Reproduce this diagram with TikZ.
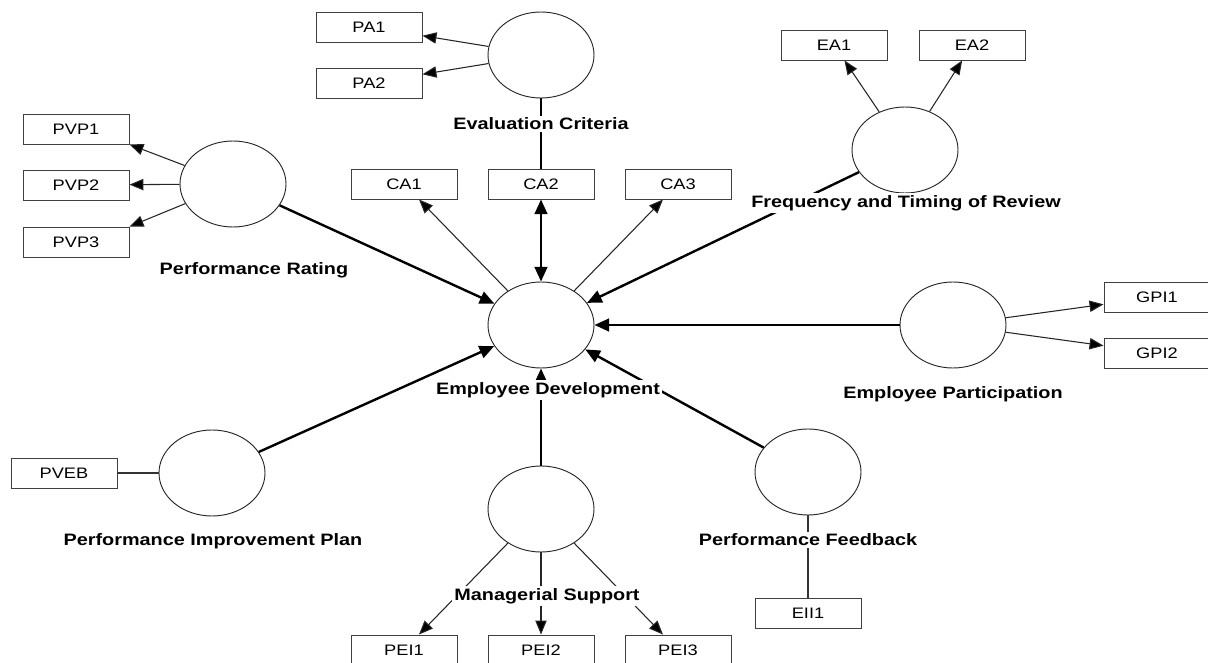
\documentclass[tikz,border=0pt]{standalone}
\usepackage{fontspec}
\setmainfont{Liberation Sans}[FakeStretch=1.2]
\usetikzlibrary{shapes.geometric,arrows.meta}

\begin{document}
\begin{tikzpicture}[x=0.75pt,y=-0.75pt,
    lv/.style={draw=black!85,ellipse,minimum width=79.5pt,minimum height=64.5pt,inner sep=0pt,line width=0.7pt},
    mv/.style={draw=black!75,rectangle,minimum width=79.5pt,minimum height=22.5pt,inner sep=0pt,line width=0.7pt,font=\fontsize{11.4}{13}\selectfont},
    lvname/.style={fill=white,inner sep=1.5pt,font=\fontsize{12.4}{14}\selectfont\bfseries},
    struct/.style={line width=1.8pt,-{Triangle[length=11pt,width=9.5pt]}},
    load/.style={line width=0.8pt,draw=black!85,-{Triangle[length=10.5pt,width=8.5pt,fill=black]}},
    link/.style={line width=0.8pt,draw=black!80}]
    \useasboundingbox (0,0) rectangle (1208,663);
    % latent variables
    \node[lv] (ed) at (541,325) {};
    \node[lv] (ec) at (541,55) {};
    \node[lv] (pr) at (233,184) {};
    \node[lv] (ftr) at (905,150) {};
    \node[lv] (ep) at (953,325) {};
    \node[lv] (pip) at (212,473) {};
    \node[lv] (ms) at (541,509) {};
    \node[lv] (pf) at (808,472) {};
    % indicators
    \node[mv] (pa1) at (369,27) {PA1};
    \node[mv] (pa2) at (369,83) {PA2};
    \foreach \n/\y in {1/129,2/185,3/242}
    \node[mv] (pvp\n) at (76,\y) {PVP\n};
    \foreach \n/\x in {1/404,2/541,3/678}
    \node[mv] (ca\n) at (\x,184) {CA\n};
    \node[mv] (ea1) at (834,45) {EA1};
    \node[mv] (ea2) at (972,45) {EA2};
    \node[mv] (gpi1) at (1157,297) {GPI1};
    \node[mv] (gpi2) at (1157,353) {GPI2};
    \node[mv] (pveb) at (64,473) {PVEB};
    \foreach \n/\x in {1/404,2/541,3/678}
    \node[mv] (pei\n) at (\x,650) {PEI\n};
    \node[mv] (eii1) at (808,613) {EII1};
    % paths
    \foreach \t in {pr,ftr,ep,pip,ms,pf}
    \draw[struct] (\t) -- (ed);
    \draw[struct,{Triangle[length=11pt,width=9.5pt]}-{Triangle[length=11pt,width=9.5pt]}] (ed) -- (ca2);
    \draw[line width=1.8pt] (ec) -- (ca2);
    \foreach \t in {ca1,ca3}
    \draw[load] (ed) -- (\t);
    \foreach \t in {pa1,pa2}
    \draw[load] (ec) -- (\t);
    \draw[load] (pr) -- (pvp1.south east);
    \draw[load] (pr) -- (pvp2);
    \draw[load] (pr) -- (pvp3.north east);
    \foreach \t in {ea1,ea2}
    \draw[load] (ftr) -- (\t);
    \foreach \t in {gpi1,gpi2}
    \draw[load] (ep) -- (\t);
    \foreach \t in {pei1,pei2,pei3}
    \draw[load] (ms) -- (\t);
    \draw[link] (pveb) -- (pip);
    \draw[link] (pf) -- (eii1);
    % names
    \node[lvname] (ecname) at (541,124) {Evaluation Criteria};
    \node[lvname] (prname) at (254,270) {Performance Rating};
    \node[lvname] (ftrname) at (906,203) {Frequency and Timing of Review};
    \node[lvname] (edname) at (548,390) {Employee Development};
    \node[lvname] (epname) at (953,394) {Employee Participation};
    \node[lvname] (pipname) at (213,541) {Performance Improvement Plan};
    \node[lvname] (msname) at (547,596) {Managerial Support};
    \node[lvname] (pfname) at (808,540) {Performance Feedback};
\end{tikzpicture}
\end{document}
